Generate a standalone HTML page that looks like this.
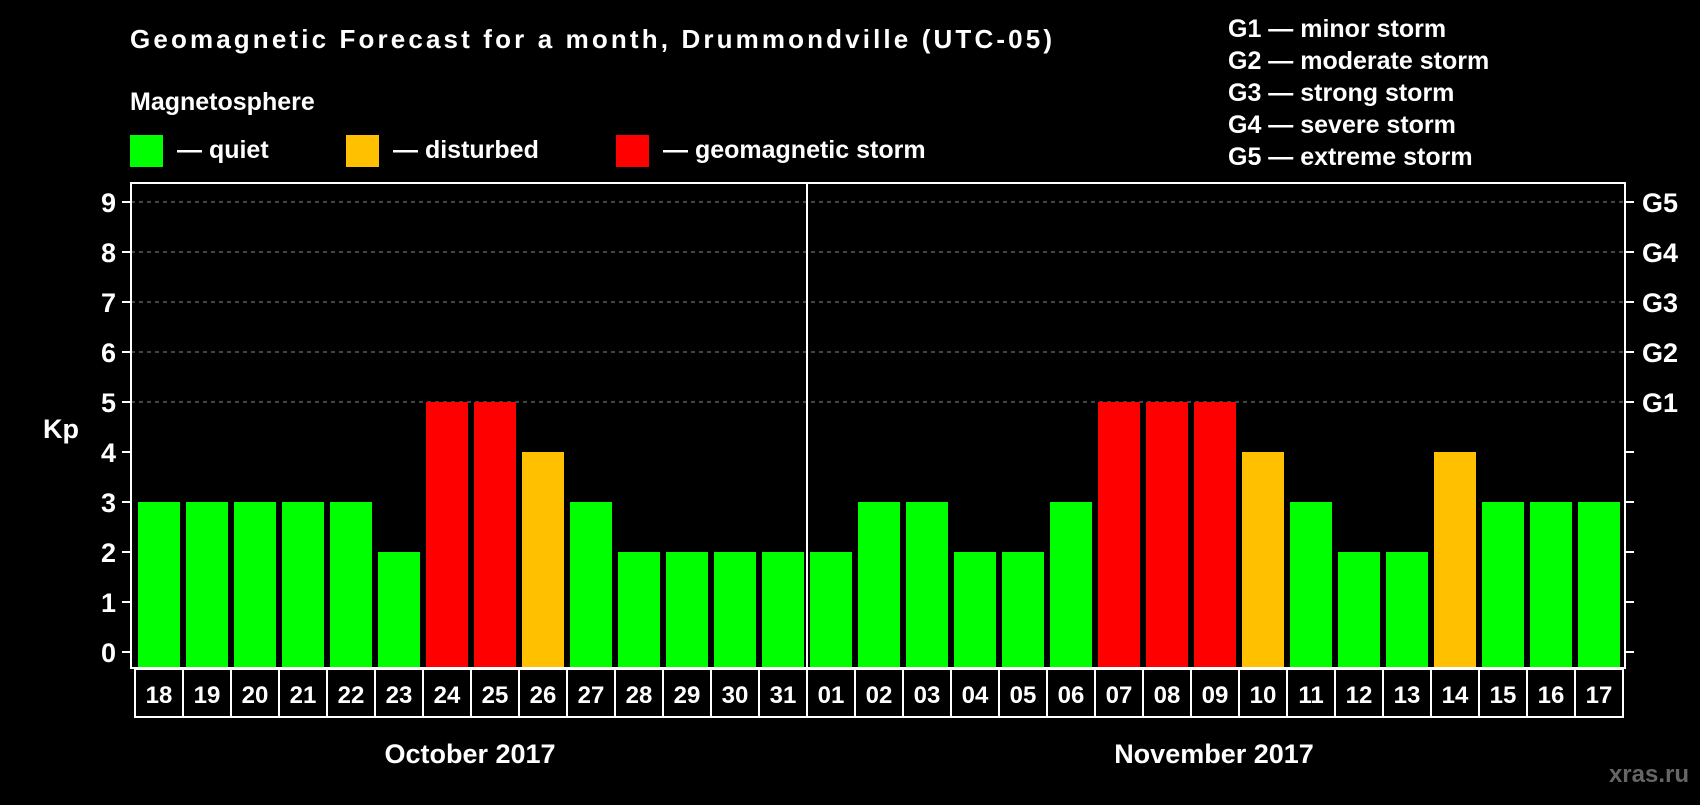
<!DOCTYPE html>
<html><head><meta charset="utf-8"><style>
html,body{margin:0;padding:0;background:#000;}
svg text{font-family:"Liberation Sans",Arial,sans-serif;font-weight:bold;fill:#fff;}
</style></head><body>
<svg id="chart" width="1700" height="800" viewBox="0 0 1700 800" xmlns="http://www.w3.org/2000/svg">
<rect x="0" y="0" width="1700" height="800" fill="#000"/>
<text x="130" y="48" font-size="26" textLength="922">Geomagnetic Forecast for a month, Drummondville (UTC-05)</text>
<text x="130" y="110" font-size="25">Magnetosphere</text>
<g>
<rect x="130" y="135" width="33" height="32" fill="#00ff00"/>
<text x="177" y="158" font-size="25">— quiet</text></g>
<g>
<rect x="346" y="135" width="33" height="32" fill="#ffc000"/>
<text x="393" y="158" font-size="25">— disturbed</text></g>
<g>
<rect x="616" y="135" width="33" height="32" fill="#ff0000"/>
<text x="663" y="158" font-size="25">— geomagnetic storm</text></g>
<g font-size="25">
<text x="1228" y="37">G1 — minor storm</text>
<text x="1228" y="69">G2 — moderate storm</text>
<text x="1228" y="101">G3 — strong storm</text>
<text x="1228" y="133">G4 — severe storm</text>
<text x="1228" y="165">G5 — extreme storm</text>
</g>
<text x="43" y="438" font-size="27">Kp</text>
<g id="grid"></g>
<g id="bars"></g>
<rect x="131" y="183" width="1494" height="485" fill="none" stroke="#fff" stroke-width="2"/>
<line x1="807" y1="183" x2="807" y2="668" stroke="#fff" stroke-width="2"/>
<g id="axes"></g>
<g id="labels"></g>
<text x="470" y="763" font-size="27" text-anchor="middle">October 2017</text>
<text x="1214" y="763" font-size="27" text-anchor="middle">November 2017</text>
<text x="1689" y="782" font-size="24" text-anchor="end" style="fill:#666">xras.ru</text>
</svg>
<script>
const days = ["18","19","20","21","22","23","24","25","26","27","28","29","30","31","01","02","03","04","05","06","07","08","09","10","11","12","13","14","15","16","17"];
const kpValues = [3,3,3,3,3,2,5,5,4,3,2,2,2,2,2,3,3,2,2,3,5,5,5,4,3,2,2,4,3,3,3];
const yTicks = [0,1,2,3,4,5,6,7,8,9];
const gLabels = ["G1","G2","G3","G4","G5"];
const NS="http://www.w3.org/2000/svg";
function y(k){return 652-50*k;}
function x(i){return 138+48*i;}
function mk(t,a,p){const e=document.createElementNS(NS,t);for(const k in a)e.setAttribute(k,a[k]);p.appendChild(e);return e;}
const grid=document.getElementById('grid'),bars=document.getElementById('bars'),axes=document.getElementById('axes'),labels=document.getElementById('labels');
yTicks.forEach(k=>{
  if(k>=5){const l=mk('line',{x1:131,x2:1625,y1:y(k),y2:y(k),stroke:'#888','stroke-dasharray':'4,4','stroke-width':1},grid);
  
  }
  const t1=mk('line',{x1:122,x2:131,y1:y(k),y2:y(k),stroke:'#fff','stroke-width':2},axes);
  
  
  const t2=mk('line',{x1:1625,x2:1634,y1:y(k),y2:y(k),stroke:'#fff','stroke-width':2},axes);
  
  
  const tx=mk('text',{x:116,y:y(k)+10,'font-size':27,'text-anchor':'end'},axes);
  tx.textContent=k;
  
  
  if(k>=5){const g=mk('text',{x:1642,y:y(k)+10,'font-size':27},axes);
  g.textContent=gLabels[k-5];
  
  }
});
kpValues.forEach((v,i)=>{
  const c=v>=5?'#ff0000':(v>=4?'#ffc000':'#00ff00');
  const r=mk('rect',{x:x(i),y:y(v),width:42,height:668-y(v),fill:c},bars);
  
  
  const b=mk('rect',{x:x(i)-3,y:669,width:48,height:48,fill:'none',stroke:'#fff','stroke-width':2},labels);
  
  
  const t=mk('text',{x:x(i)+21,y:703,'font-size':24,'text-anchor':'middle'},labels);
  t.textContent=days[i];
  
  
});
</script>
</body></html>
